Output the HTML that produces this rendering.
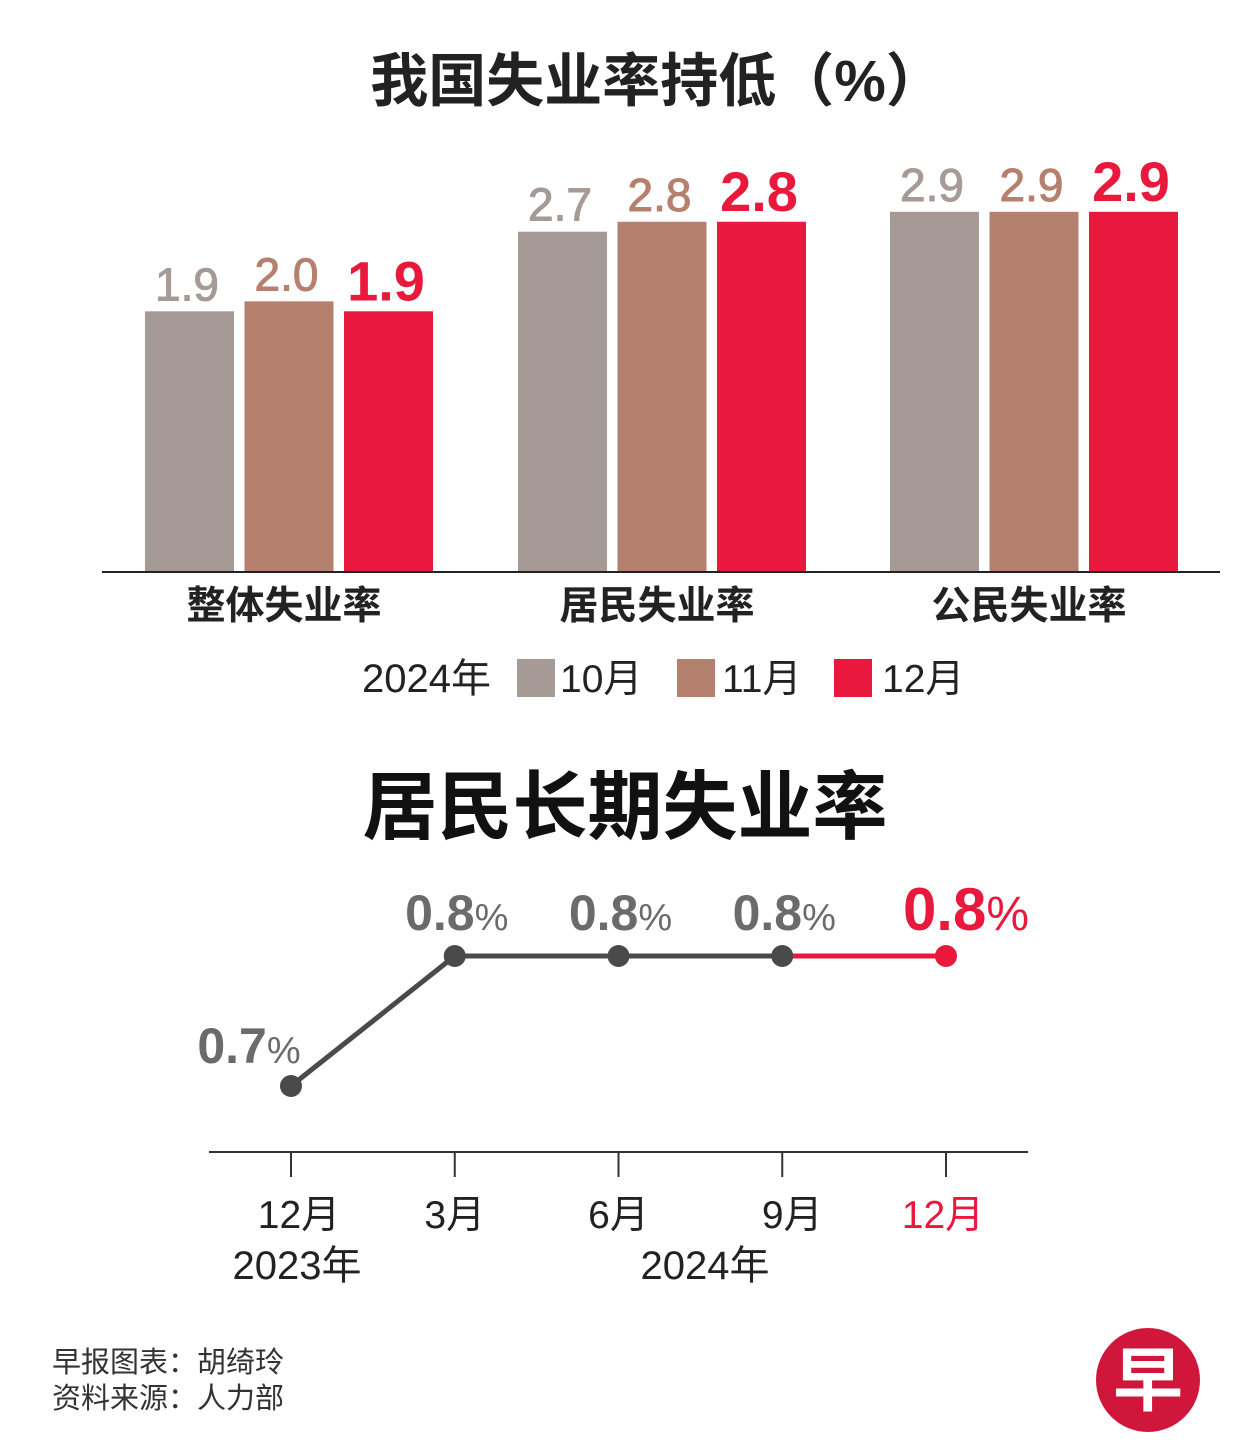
<!DOCTYPE html>
<html><head><meta charset="utf-8">
<style>
body{margin:0;background:#fff;}
svg{display:block;font-family:"Liberation Sans","Noto Sans CJK SC",sans-serif;}
</style></head>
<body>
<svg id="chart" width="1251" height="1454" viewBox="0 0 1251 1454" xmlns="http://www.w3.org/2000/svg">
<rect width="1251" height="1454" fill="#fff"/>
<text x="657" y="101" text-anchor="middle" font-size="58" font-weight="bold" fill="#222">我国失业率持低（%）</text>
<g id="bars"></g>
<line x1="102" y1="572" x2="1220" y2="572" stroke="#222" stroke-width="2"/>
<g id="legend">
<text x="362" y="692" font-size="40" fill="#222">2024年</text>
<rect x="517" y="659" width="38" height="38" fill="#a59a96"/>
<text x="560" y="692" font-size="39" fill="#222">10月</text>
<rect x="677" y="659" width="38" height="38" fill="#b5806d"/>
<text x="722" y="692" font-size="39" fill="#222">11月</text>
<rect x="834" y="659" width="38" height="38" fill="#e8193c"/>
<text x="882" y="692" font-size="39" fill="#222">12月</text>
</g>
<text x="625" y="833" text-anchor="middle" font-size="75" font-weight="bold" fill="#111">居民长期失业率</text>
<g id="line"></g>
<line x1="209" y1="1152" x2="1028" y2="1152" stroke="#333" stroke-width="2"/>
<text x="297" y="1279" text-anchor="middle" font-size="40" fill="#222">2023年</text>
<text x="705" y="1279" text-anchor="middle" font-size="40" fill="#222">2024年</text>
<text x="52" y="1372" font-size="29" fill="#333">早报图表：胡绮玲</text>
<text x="52" y="1408" font-size="29" fill="#333">资料来源：人力部</text>
<g>
<circle cx="1148" cy="1380" r="52" fill="#d0163a"/>
<text x="1148" y="1405" text-anchor="middle" font-size="70" font-weight="bold" fill="#fff">早</text>
</g>
</svg>
<script>
const categories = ["整体失业率","居民失业率","公民失业率"];
const oct = [1.9, 2.7, 2.9];
const nov = [2.0, 2.8, 2.9];
const dec = [1.9, 2.8, 2.9];
const lineLabels = ["12月","3月","6月","9月","12月"];
const lineValues = [0.7, 0.8, 0.8, 0.8, 0.8];

const NS = "http://www.w3.org/2000/svg";
function mk(tag, attrs, parent, txt){
  const e = document.createElementNS(NS, tag);
  for (const k in attrs) e.setAttribute(k, attrs[k]);
  if (txt !== undefined) e.textContent = txt;
  parent.appendChild(e); return e;
}
const yBar = v => 572 - (v + 0.72) * 99.5;
const groupX = i => [145, 518, 890][i];
const barsG = document.getElementById('bars');
const series = [
  {vals: oct, color:'#a59a96', label:'#a59a96', fs:46, fw:'normal', key:'oct'},
  {vals: nov, color:'#b5806d', label:'#b5806d', fs:46, fw:'normal', key:'nov'},
  {vals: dec, color:'#e8193c', label:'#e8193c', fs:56, fw:'bold', key:'dec'}
];
categories.forEach((c, i) => {
  series.forEach((s, j) => {
    const x = groupX(i) + j * 99.5;
    const y = yBar(s.vals[i]);
    const r = mk('rect', {x: x, y: y, width: 89, height: 572 - y, fill: s.color}, barsG);
    
    
    const t = mk('text', {x: x + 42, y: y - 11, 'text-anchor':'middle', 'font-size': s.fs, 'font-weight': s.fw, fill: s.label, 'stroke': s.label, 'stroke-width': j < 2 ? 1 : 0}, barsG, s.vals[i].toFixed(1));
    
    
  });
  const ct = mk('text', {x: groupX(i) + 139, y: 619, 'text-anchor':'middle', 'font-size': 39, 'font-weight':'bold', fill:'#222'}, barsG, c);
  
  
});

const lineG = document.getElementById('line');
const xL = i => 291 + i * 163.75;
const yL = v => 956 - (v - 0.8) * 1300;
for (let i = 0; i < lineValues.length - 1; i++) {
  const seg = mk('line', {x1: xL(i), y1: yL(lineValues[i]), x2: xL(i+1), y2: yL(lineValues[i+1]), stroke: i === lineValues.length - 2 ? '#e8193c' : '#4a4a4a', 'stroke-width': 5}, lineG);
  
  
}
lineValues.forEach((v, i) => {
  const last = i === lineValues.length - 1;
  const col = last ? '#e8193c' : '#4a4a4a';
  const p = mk('circle', {cx: xL(i), cy: yL(v), r: 11, fill: col}, lineG);
  
  
  const lx = i === 0 ? xL(i) - 42 : xL(i) + 2 + (last ? 18 : 0);
  const ly = i === 0 ? yL(v) - 23 : yL(v) - 26;
  const t = mk('text', {x: lx, y: ly, 'text-anchor':'middle', fill: last ? '#e8193c' : '#6b6b6b'}, lineG);
  
  
  mk('tspan', {'font-size': last ? 60 : 50, 'font-weight':'bold'}, t, v.toFixed(1));
  mk('tspan', {'font-size': last ? 48 : 38}, t, '%');
  const tk = mk('line', {x1: xL(i), y1: 1152, x2: xL(i), y2: 1177, stroke:'#333', 'stroke-width': 2}, lineG);
  
  
  const xl = mk('text', {x: xL(i) + (i===0?8:(i===3?10:(last?-3:0))), y: 1228, 'text-anchor':'middle', 'font-size': 39, fill: last ? '#e8193c' : '#222'}, lineG, lineLabels[i]);
  
  
});
</script>
</body></html>
